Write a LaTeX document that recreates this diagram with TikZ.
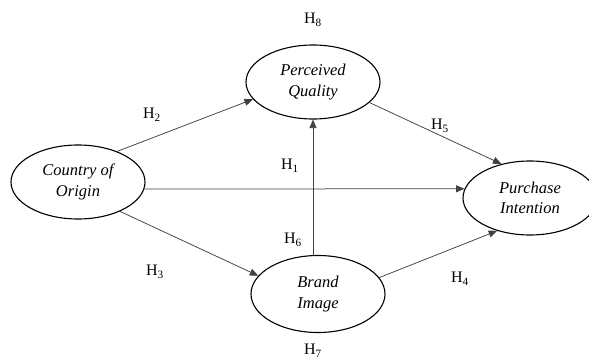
\documentclass[tikz,border=0pt]{standalone}
\usepackage{fontspec}
\setmainfont{Liberation Serif}
\usetikzlibrary{arrows.meta,shapes.geometric}
\begin{document}
\begin{tikzpicture}[x=1pt,y=-1pt,
  construct/.style={draw=black, line width=1.1pt, ellipse, minimum width=134pt, minimum height=74pt, inner sep=0pt, align=center, font=\fontsize{16.5}{20.5}\selectfont\itshape},
  hlabel/.style={font=\fontsize{16}{18}\selectfont},
  link/.style={draw=black!75, line width=0.75pt, -{Triangle[length=8.5pt,width=7pt]}}]
\useasboundingbox (0,0) rectangle (589,361);
\node[construct] (coo) at (78,182) {Country of\\Origin};
\node[construct] (pq) at (313,82) {Perceived\\Quality};
\node[construct, minimum height=77pt] (bi) at (318,294) {Brand\\Image};
\node[construct] (pi) at (530,198) {Purchase\\Intention};
\draw[link] (coo.38) -- (pq.196);
\draw[link] (coo.-6) -- (pi.172);
\draw[link] (coo.-35) -- (bi.163);
\draw[link] (pq.-20) -- (pi.130);
\draw[link] (bi.north -| pq.south) -- (pq.south);
\draw[link] (bi.15) -- (pi.225);
\node[hlabel] (h8) at (313,20) {H\textsubscript{8}};
\node[hlabel] (h2) at (152,115) {H\textsubscript{2}};
\node[hlabel] (h1) at (290,166) {H\textsubscript{1}};
\node[hlabel] (h5) at (440,126) {H\textsubscript{5}};
\node[hlabel] (h6) at (293,240) {H\textsubscript{6}};
\node[hlabel] (h3) at (155,272) {H\textsubscript{3}};
\node[hlabel] (h4) at (460,279) {H\textsubscript{4}};
\node[hlabel] (h7) at (313,351) {H\textsubscript{7}};
\end{tikzpicture}
\end{document}
